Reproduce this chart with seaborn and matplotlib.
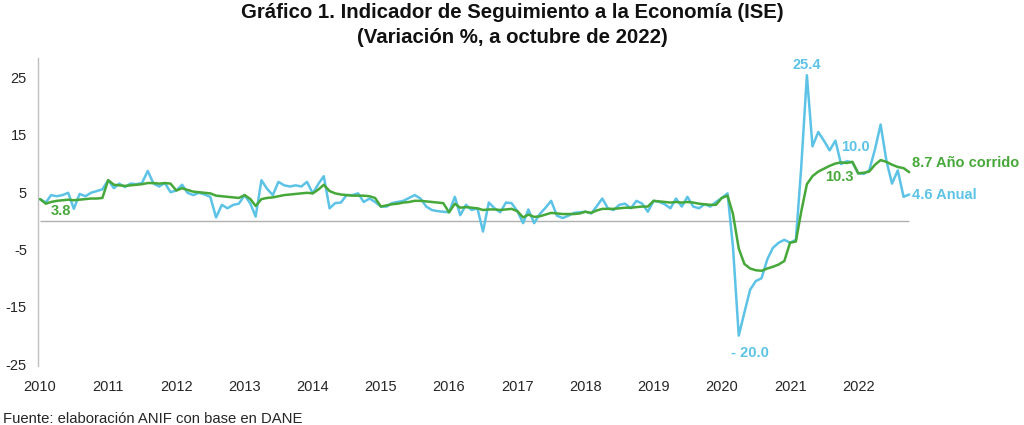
import pandas as pd
import seaborn as sns
import matplotlib.pyplot as plt

# ISE, variación % anual (serie mensual ene-2010 a oct-2022)
anual = [
    3.8, 3.2, 4.5, 4.3, 4.5, 4.9, 2.1, 4.7, 4.3, 4.9, 5.2, 5.5,          # 2010
    7.1, 5.7, 6.5, 5.9, 6.5, 6.4, 6.6, 8.7, 6.5, 6.0, 6.6, 5.0,          # 2011
    5.3, 6.3, 4.9, 4.5, 4.9, 4.6, 4.2, 0.6, 2.8, 2.2, 2.8, 3.0,          # 2012
    4.5, 3.0, 0.75, 7.1, 5.6, 4.5, 6.8, 6.2, 6.0, 6.2, 6.0, 6.8,         # 2013
    4.8, 6.5, 7.8, 2.2, 3.1, 3.2, 4.5, 4.5, 4.8, 3.3, 3.9, 3.3,          # 2014
    2.5, 2.5, 3.1, 3.3, 3.5, 4.0, 4.5, 3.9, 2.5, 1.9, 1.7, 1.6,          # 2015
    1.5, 4.2, 1.0, 2.8, 1.9, 2.2, -1.85, 3.2, 2.2, 1.5, 3.2, 3.1,        # 2016
    1.7, -0.4, 2.0, -0.4, 1.2, 2.3, 3.5, 0.9, 0.5, 0.9, 1.4, 1.5,        # 2017
    1.6, 1.3, 2.5, 3.9, 2.2, 1.9, 2.8, 3.0, 2.2, 3.5, 3.0, 1.6,          # 2018
    3.5, 3.3, 2.9, 2.2, 3.9, 2.5, 4.2, 2.5, 2.2, 2.9, 2.5, 3.3,          # 2019
    4.0, 4.8, -4.5, -20.0, -16.0, -12.0, -10.5, -10.0, -6.7, -4.7, -3.8, -3.3,  # 2020
    -3.8, -3.3, 9.0, 25.4, 13.0, 15.5, 14.0, 12.3, 14.0, 9.9, 10.4, 10.2,      # 2021
    8.3, 8.2, 8.8, 12.5, 16.8, 10.5, 6.5, 8.8, 4.2, 4.6,                # 2022
]

# ISE, variación % año corrido
ano_corrido = [
    3.8, 3.0, 3.3, 3.5, 3.6, 3.7, 3.6, 3.7, 3.8, 3.9, 3.9, 4.0,          # 2010
    7.1, 6.3, 6.2, 6.1, 6.2, 6.3, 6.4, 6.6, 6.6, 6.5, 6.6, 6.5,          # 2011
    5.3, 5.7, 5.4, 5.1, 5.0, 4.9, 4.8, 4.4, 4.3, 4.2, 4.1, 4.0,          # 2012
    4.5, 3.8, 2.6, 3.8, 4.0, 4.1, 4.3, 4.5, 4.6, 4.7, 4.8, 4.9,          # 2013
    4.8, 5.5, 6.3, 5.2, 4.8, 4.6, 4.5, 4.4, 4.4, 4.4, 4.3, 4.0,          # 2014
    2.5, 2.7, 2.9, 3.0, 3.2, 3.3, 3.5, 3.5, 3.4, 3.3, 3.2, 3.1,          # 2015
    1.5, 3.0, 2.3, 2.4, 2.3, 2.2, 1.9, 2.0, 2.0, 1.9, 2.0, 2.1,          # 2016
    1.7, 0.6, 1.1, 0.7, 0.8, 1.1, 1.4, 1.3, 1.2, 1.2, 1.2, 1.3,          # 2017
    1.6, 1.4, 1.8, 2.1, 2.1, 2.1, 2.2, 2.3, 2.3, 2.4, 2.5, 2.5,          # 2018
    3.5, 3.4, 3.3, 3.2, 3.3, 3.2, 3.3, 3.2, 3.0, 2.9, 2.8, 2.8,          # 2019
    4.0, 4.4, 1.2, -4.8, -7.5, -8.3, -8.6, -8.7, -8.3, -8.0, -7.6, -7.0,  # 2020
    -3.8, -3.6, 1.5, 6.4, 7.8, 8.6, 9.1, 9.6, 10.0, 10.2, 10.1, 10.3,     # 2021
    8.3, 8.4, 8.6, 9.8, 10.6, 10.3, 9.8, 9.4, 9.2, 8.5,                 # 2022
]

anios = list(range(2010, 2023))
yticks = [-25, -15, -5, 5, 15, 25]

azul = "#5CC3E6"
verde = "#47A83A"

fechas = pd.date_range("2010-01-01", periods=len(anual), freq="MS")
df = pd.DataFrame({"fecha": fechas, "anual": anual, "corrido": ano_corrido})

sns.set_theme(style="white")
plt.rcParams["font.family"] = ["Liberation Sans", "DejaVu Sans"]

fig = plt.figure(figsize=(10.24, 4.25), dpi=100)
ax = fig.add_axes([0.0371, 0.1388, 0.8535, 0.7247])

ax.hlines(0, df["fecha"].iloc[0], df["fecha"].iloc[-1], color="#B0B0B0", linewidth=1.0, zorder=1)
sns.lineplot(data=df, x="fecha", y="anual", color=azul, linewidth=1.8, ax=ax, zorder=3)
sns.lineplot(data=df, x="fecha", y="corrido", color=verde, linewidth=1.8, ax=ax, zorder=4)

ax.set_xlim(pd.Timestamp("2009-12-21"), pd.Timestamp("2022-10-16"))
ax.set_ylim(-25.3, 28.4)
ax.set_yticks(yticks)
ax.set_yticklabels([str(v) for v in yticks])
ax.set_xticks([pd.Timestamp(f"{a}-01-01") for a in anios])
ax.set_xticklabels([str(a) for a in anios])
ax.tick_params(axis="x", length=0, pad=10, labelsize=10.5, colors="#262626")
ax.tick_params(axis="y", length=0, pad=8, labelsize=10.5, colors="#262626")
ax.set_xlabel("")
ax.set_ylabel("")

for s in ["top", "right", "bottom"]:
    ax.spines[s].set_visible(False)
ax.spines["left"].set_color("#BFBFBF")
ax.spines["left"].set_linewidth(1.0)

etiq = dict(textcoords="offset points", fontsize=10.5, fontweight="bold", annotation_clip=False)
ax.annotate("25.4", (fechas[135], anual[135]), xytext=(0, 2.5), ha="center", va="bottom", color=azul, **etiq)
ax.annotate("- 20.0", (fechas[123], anual[123]), xytext=(8.2, -12.2), ha="center", va="center", color=azul, **etiq)
ax.annotate("10.0", (fechas[143], anual[143]), xytext=(2.2, 10.9), ha="center", va="center", color=azul, **etiq)
ax.annotate("10.3", (fechas[143], ano_corrido[143]), xytext=(-9.4, -11.2), ha="center", va="center", color=verde, **etiq)
ax.annotate("8.7 Año corrido", (fechas[-1], ano_corrido[-1]), xytext=(2.2, 6.5), ha="left", va="center", color=verde, **etiq)
ax.annotate("4.6 Anual", (fechas[-1], anual[-1]), xytext=(2.2, 0), ha="left", va="center", color=azul, **etiq)
ax.annotate("3.8", (fechas[0], ano_corrido[0]), xytext=(15, -8.5), ha="center", va="center", color=verde, **etiq)

titulo = dict(ha="center", va="center", fontsize=14.7, fontweight="bold", color="#111111")
fig.text(0.5, 1 - 12.5 / 425, "Gráfico 1. Indicador de Seguimiento a la Economía (ISE)", **titulo)
fig.text(0.5, 1 - 37.5 / 425, "(Variación %, a octubre de 2022)", **titulo)
fig.text(0.003, 1 - 419 / 425, "Fuente: elaboración ANIF con base en DANE", ha="left", va="center",
         fontsize=10.7, color="#262626")

fig.savefig("out.png", dpi=100)
